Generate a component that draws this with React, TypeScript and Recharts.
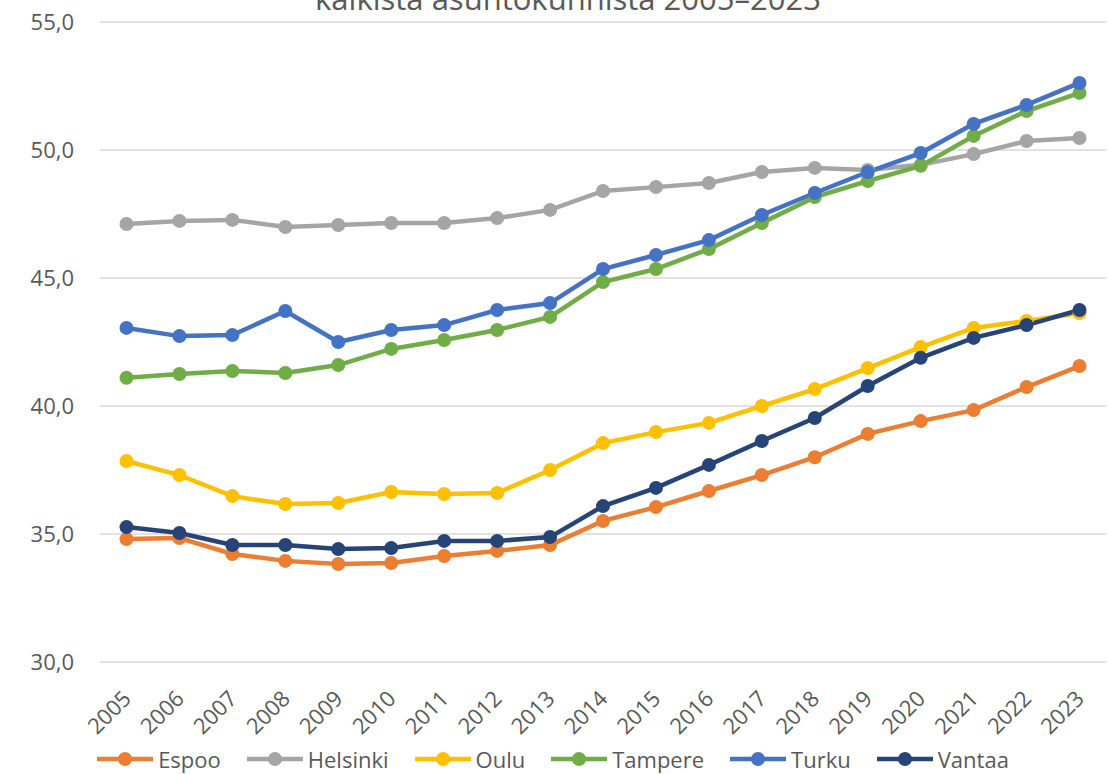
import { LineChart, Line, XAxis, YAxis, CartesianGrid, Legend } from 'recharts';

// Vuodet 2005–2023
const YEARS = ['2005', '2006', '2007', '2008', '2009', '2010', '2011', '2012', '2013', '2014', '2015', '2016', '2017', '2018', '2019', '2020', '2021', '2022', '2023'];

const ESPOO = [34.8, 34.84, 34.22, 33.95, 33.83, 33.87, 34.14, 34.34, 34.57, 35.51, 36.05, 36.68, 37.3, 38.0, 38.91, 39.41, 39.84, 40.74, 41.56];
const HELSINKI = [47.11, 47.23, 47.27, 46.99, 47.07, 47.15, 47.15, 47.34, 47.66, 48.4, 48.55, 48.71, 49.14, 49.3, 49.22, 49.42, 49.84, 50.35, 50.47];
const OULU = [37.85, 37.3, 36.48, 36.17, 36.21, 36.64, 36.56, 36.6, 37.5, 38.55, 38.98, 39.34, 40.0, 40.66, 41.48, 42.3, 43.05, 43.32, 43.63];
const TAMPERE = [41.1, 41.25, 41.37, 41.29, 41.6, 42.23, 42.58, 42.97, 43.48, 44.84, 45.35, 46.13, 47.15, 48.16, 48.79, 49.38, 50.55, 51.52, 52.23];
const TURKU = [43.05, 42.73, 42.77, 43.71, 42.5, 42.97, 43.16, 43.75, 44.02, 45.35, 45.9, 46.48, 47.46, 48.32, 49.14, 49.88, 51.02, 51.76, 52.62];
const VANTAA = [35.27, 35.04, 34.57, 34.57, 34.41, 34.45, 34.73, 34.73, 34.88, 36.09, 36.8, 37.7, 38.63, 39.53, 40.78, 41.88, 42.66, 43.16, 43.75];

const Y_TICKS = [30, 35, 40, 45, 50, 55];

const SERIES = [
  { key: 'Espoo', values: ESPOO, color: '#ED7D31' },
  { key: 'Helsinki', values: HELSINKI, color: '#A5A5A5' },
  { key: 'Oulu', values: OULU, color: '#FFC000' },
  { key: 'Tampere', values: TAMPERE, color: '#70AD47' },
  { key: 'Turku', values: TURKU, color: '#4472C4' },
  { key: 'Vantaa', values: VANTAA, color: '#264478' },
];

const data = YEARS.map((year, i) => {
  const row: Record<string, string | number> = { year };
  SERIES.forEach((s) => {
    row[s.key] = s.values[i];
  });
  return row;
});

const TEXT = '#595959';
const FONT = '"Open Sans", sans-serif';

function YearTick({ x, y, payload }: any) {
  const tx = x + 6;
  const ty = y + 38;
  return (
    <text x={tx} y={ty} transform={`rotate(-45 ${tx} ${ty})`} textAnchor="end" fill={TEXT} fontSize={22} fontFamily={FONT}>
      {payload.value}
    </text>
  );
}

function CityLegend() {
  return (
    <div style={{ display: 'flex', justifyContent: 'center', alignItems: 'center', gap: '26px', paddingTop: '10px', fontFamily: FONT, fontSize: '22px', color: TEXT }}>
      {SERIES.map((s) => (
        <div key={s.key} style={{ display: 'flex', alignItems: 'center' }}>
          <svg width={56} height={16}>
            <line x1={0} y1={8} x2={56} y2={8} stroke={s.color} strokeWidth={4.5} />
            <circle cx={28} cy={8} r={7} fill={s.color} />
          </svg>
          <span style={{ marginLeft: '5px', lineHeight: '30px' }}>{s.key}</span>
        </div>
      ))}
    </div>
  );
}

export default function App() {
  return (
    <div style={{ position: 'absolute', left: 0, top: 0, width: 1116, height: 774, background: '#fff', overflow: 'hidden' }}>
      <LineChart width={1116} height={774} data={data} margin={{ top: 22, right: 10, left: 0, bottom: 0 }}>
        <text x={568} y={10} textAnchor="middle" fill={TEXT} fontSize={31} fontFamily={FONT}>
          kaikista asuntokunnista 2005–2023
        </text>
        <CartesianGrid vertical={false} stroke="#D9D9D9" strokeWidth={1.5} />
        <XAxis
          dataKey="year"
          height={72}
          axisLine={false}
          tickLine={false}
          tickSize={0}
          tickMargin={0}
          interval={0}
          padding={{ left: 26.5, right: 26.5 }}
          tick={<YearTick />}
        />
        <YAxis
          width={100}
          domain={[30, 55]}
          ticks={Y_TICKS}
          axisLine={false}
          tickLine={false}
          tickSize={0}
          tickMargin={26}
          tickFormatter={(v: number) => v.toFixed(1).replace('.', ',')}
          tick={{ fill: TEXT, fontSize: 22, fontFamily: FONT }}
        />
        <Legend verticalAlign="bottom" height={40} content={<CityLegend />} />
        {SERIES.map((s) => (
          <Line
            key={s.key}
            dataKey={s.key}
            stroke={s.color}
            strokeWidth={4.5}
            dot={{ r: 7, fill: s.color, stroke: s.color, strokeWidth: 0 }}
            activeDot={false}
            isAnimationActive={false}
          />
        ))}
      </LineChart>
    </div>
  );
}
